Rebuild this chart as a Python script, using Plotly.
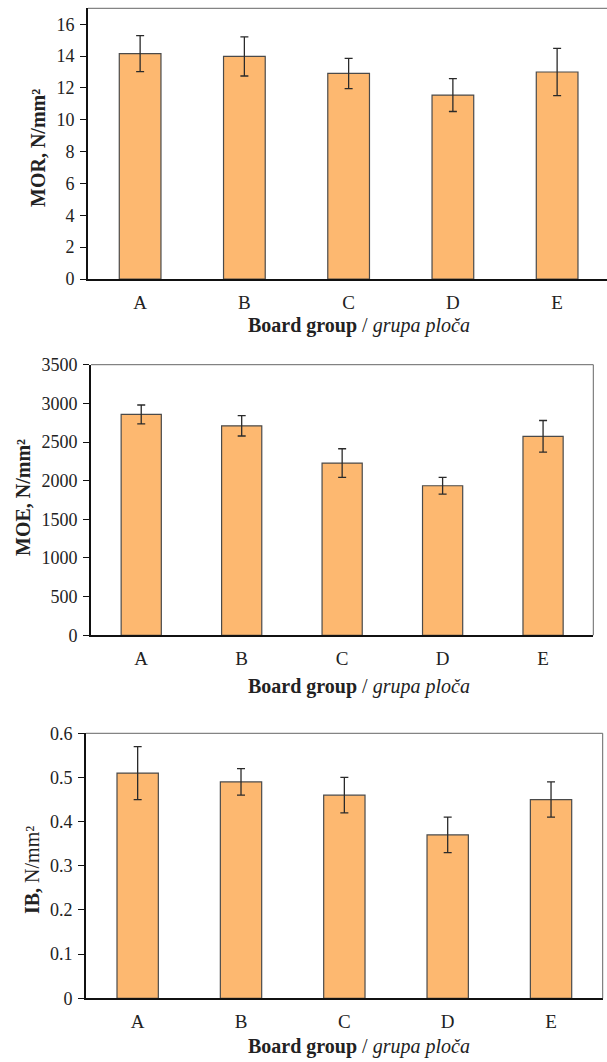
import plotly.graph_objects as go

groups = ["A", "B", "C", "D", "E"]

mor_values = [14.15, 13.98, 12.91, 11.55, 13.0]
mor_errors = [1.13, 1.23, 0.95, 1.03, 1.48]

moe_values = [2857, 2710, 2228, 1934, 2573]
moe_errors = [122, 132, 185, 108, 205]

ib_values = [0.51, 0.49, 0.46, 0.37, 0.45]
ib_errors = [0.06, 0.03, 0.04, 0.04, 0.04]

W, H = 607, 1062
BAR_FILL = "#FDB870"
BAR_LINE = "#4a4a4a"
ERR_COLOR = "#2a2a2a"
FONT = "Liberation Serif, Times New Roman, serif"

fig = go.Figure()

panels = [
    dict(vals=mor_values, errs=mor_errors, xa="x", ya="y",
         xdom=[88 / W, 1.0], ydom=[1 - 279 / H, 1 - 8.3 / H],
         xrange=[-0.5, -0.5 + (W - 88) / 104.25], yrange=[0, 17], dtick=2,
         ytitle="<b>MOR, N/mm²</b>", ytx=38, yty=148, xty=325, right=False),
    dict(vals=moe_values, errs=moe_errors, xa="x2", ya="y2",
         xdom=[91 / W, 593.3 / W], ydom=[1 - 635.3 / H, 1 - 364.7 / H],
         xrange=[-0.5, 4.5], yrange=[0, 3500], dtick=500,
         ytitle="<b>MOE, N/mm²</b>", ytx=23, yty=498, xty=686, right=True),
    dict(vals=ib_values, errs=ib_errors, xa="x3", ya="y3",
         xdom=[86 / W, 602.7 / W], ydom=[1 - 998.3 / H, 1 - 733.3 / H],
         xrange=[-0.5, 4.5], yrange=[0, 0.6], dtick=0.1,
         ytitle="<b>IB,</b> N/mm²", ytx=32, yty=870, xty=1046, right=True),
]

annotations = []
shapes = []
for i, p in enumerate(panels):
    fig.add_trace(go.Bar(
        x=groups, y=p["vals"], xaxis=p["xa"], yaxis=p["ya"],
        width=0.4,
        marker=dict(color=BAR_FILL, line=dict(color=BAR_LINE, width=1.2)),
        error_y=dict(type="data", array=p["errs"], visible=True,
                     color=ERR_COLOR, thickness=1.3, width=4),
        showlegend=False, hoverinfo="skip",
    ))
    suffix = "" if i == 0 else str(i + 1)
    fig.layout["xaxis" + suffix] = dict(
        domain=p["xdom"], range=p["xrange"], anchor=p["ya"], automargin=False,
        showline=True, linecolor="#111", linewidth=1.8,
        ticks="", showgrid=False, zeroline=False,
        tickfont=dict(family=FONT, size=19, color="#222"),
        ticklabelstandoff=5, fixedrange=True,
    )
    fig.layout["yaxis" + suffix] = dict(
        domain=p["ydom"], range=p["yrange"], anchor=p["xa"], dtick=p["dtick"],
        automargin=False,
        showline=True, linecolor="#111", linewidth=1.8,
        ticks="outside", ticklen=6, tickwidth=1, tickcolor="#111",
        showgrid=False, zeroline=False,
        tickfont=dict(family=FONT, size=18, color="#222"),
        ticklabelstandoff=2, fixedrange=True,
    )
    xd = p["xa"] + " domain"
    yd = p["ya"] + " domain"
    shapes.append(dict(type="line", xref=xd, yref=yd, x0=0, x1=1, y0=1, y1=1,
                       line=dict(color="#666", width=1)))
    if p["right"]:
        shapes.append(dict(type="line", xref=xd, yref=yd, x0=1, x1=1, y0=0, y1=1,
                           line=dict(color="#666", width=1)))
    annotations.append(dict(
        text=p["ytitle"], textangle=-90, xref="paper", yref="paper",
        x=p["ytx"] / W, y=1 - p["yty"] / H, xanchor="center", yanchor="middle",
        showarrow=False, font=dict(family=FONT, size=20, color="#222"),
    ))
    annotations.append(dict(
        text="<b>Board group</b> / <i>grupa ploča</i>", xref="paper", yref="paper",
        x=359 / W, y=1 - p["xty"] / H, xanchor="center", yanchor="middle",
        showarrow=False, font=dict(family=FONT, size=20, color="#222"),
    ))

fig.update_layout(
    template="none",
    width=W, height=H,
    margin=dict(l=0, r=0, t=0, b=0, autoexpand=False),
    paper_bgcolor="white", plot_bgcolor="white",
    annotations=annotations, shapes=shapes,
    bargap=0.6,
)

fig.write_html(
    "out.html",
    config={"displayModeBar": False},
    post_script="document.body.style.margin='0';document.body.style.padding='0';",
)
